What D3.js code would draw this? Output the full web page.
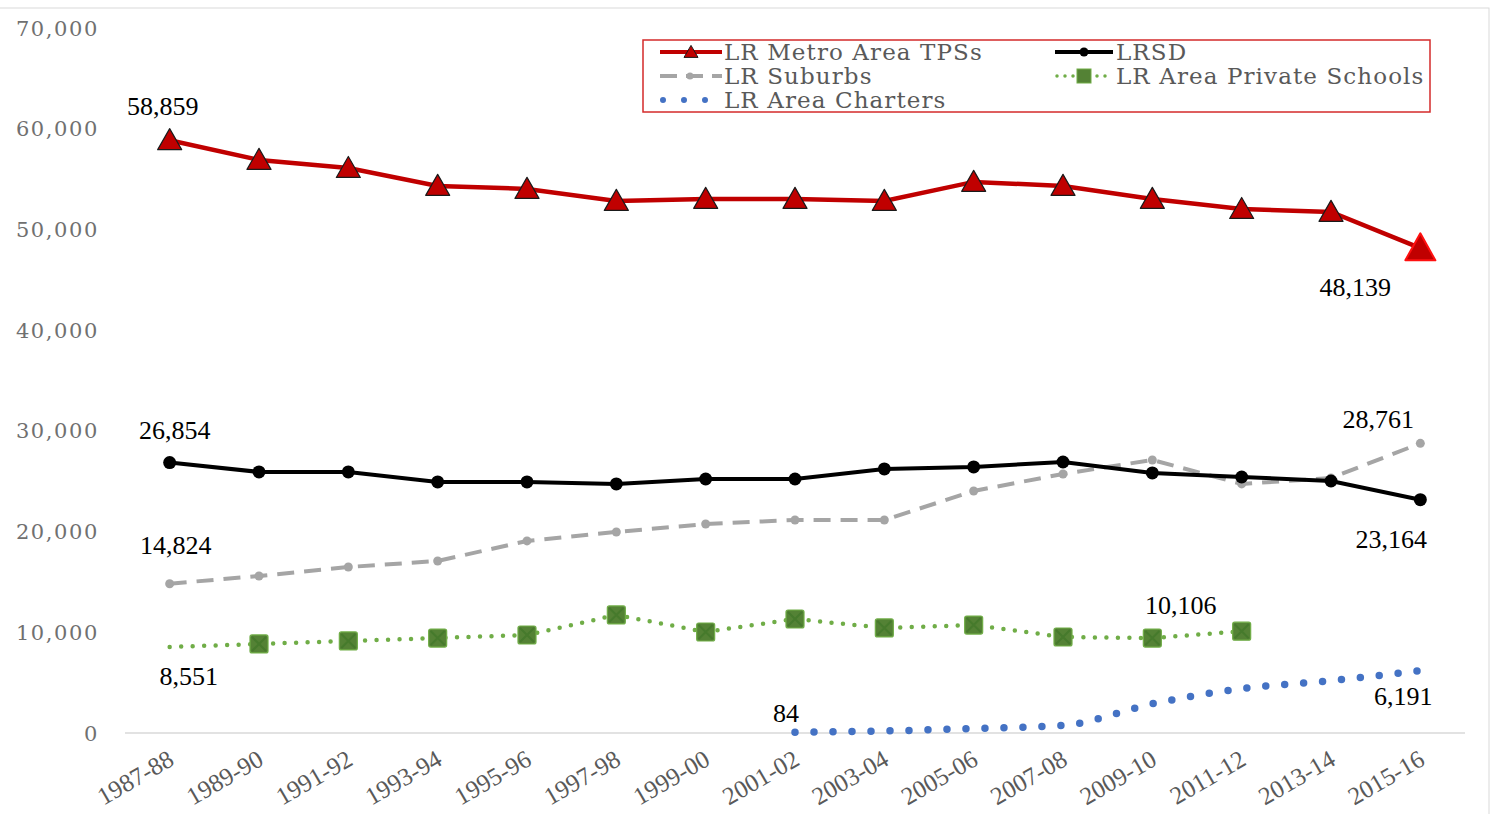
<!DOCTYPE html>
<html>
<head>
<meta charset="utf-8">
<script src="https://cdn.jsdelivr.net/npm/d3@7"></script>
<style>
  body { margin: 0; background: #fff; }
  svg { display: block; }
</style>
</head>
<body>
<svg width="1494" height="814"></svg>
<script>
const width = 1494;
const height = 814;

const years = ["1987-88", "1989-90", "1991-92", "1993-94", "1995-96", "1997-98", "1999-00",
  "2001-02", "2003-04", "2005-06", "2007-08", "2009-10", "2011-12", "2013-14", "2015-16"];

const metroTPS = [58859, 56900, 56100, 54320, 54020, 52830, 53030, 53030, 52830, 54720, 54320, 53030, 52030, 51740, 48139];
const lrsd = [26854, 25920, 25920, 24930, 24930, 24730, 25220, 25220, 26220, 26420, 26910, 25820, 25420, 25020, 23164];
const suburbs = [14824, 15590, 16480, 17080, 19070, 19960, 20750, 21150, 21150, 24030, 25720, 27110, 24730, 25320, 28761];
const privateSchools = [8551, 8840, 9140, 9430, 9730, 11720, 10030, 11320, 10430, 10720, 9530, 9430, 10106, null, null];
const charters = [null, null, null, null, null, null, null, 84, 200, 450, 750, 2900, 4400, 5200, 6191];

const yTicks = [0, 10000, 20000, 30000, 40000, 50000, 60000, 70000];

// which points get a value label, and where it sits relative to the point
const valueLabels = [
  { series: "metro", i: 0, dx: -7, dy: -25 },
  { series: "metro", i: 14, dx: -65, dy: 48 },
  { series: "lrsd", i: 0, dx: 5, dy: -24 },
  { series: "lrsd", i: 14, dx: -29, dy: 48 },
  { series: "suburbs", i: 0, dx: 6, dy: -30 },
  { series: "suburbs", i: 14, dx: -42, dy: -15 },
  { series: "private", i: 0, dx: 19, dy: 38 },
  { series: "private", i: 12, dx: -61, dy: -17 },
  { series: "charters", i: 7, dx: -9, dy: -10 },
  { series: "charters", i: 14, dx: -17, dy: 34 }
];

const seriesValues = { metro: metroTPS, lrsd: lrsd, suburbs: suburbs, private: privateSchools, charters: charters };

const svg = d3.select("svg");

const x = d3.scaleBand().domain(years).range([125, 1465]);
const cx = d => x(d) + x.bandwidth() / 2;
const y = d3.scaleLinear().domain([0, 70000]).range([733, 28]);

// outer chart border
svg.append("rect")
  .attr("x", -2).attr("y", 8)
  .attr("width", 1491).attr("height", 820)
  .attr("fill", "none")
  .attr("stroke", "#d9d9d9")
  .attr("stroke-width", 1);

// y axis labels
svg.append("g")
  .selectAll("text")
  .data(yTicks)
  .enter()
  .append("text")
  .attr("x", 99)
  .attr("y", d => y(d))
  .attr("dy", "0.36em")
  .attr("text-anchor", "end")
  .style("font-family", "'DejaVu Serif'")
  .style("font-size", "21px")
  .style("letter-spacing", "1.6px")
  .style("fill", "#707070")
  .text(d => d3.format(",")(d));

// baseline
svg.append("line")
  .attr("x1", 125).attr("x2", 1465)
  .attr("y1", y(0)).attr("y2", y(0))
  .attr("stroke", "#d9d9d9")
  .attr("stroke-width", 1.5);

// x axis labels
svg.append("g")
  .selectAll("text")
  .data(years)
  .enter()
  .append("text")
  .attr("transform", d => `translate(${cx(d) + 6}, ${y(0) + 31}) rotate(-30)`)
  .attr("text-anchor", "end")
  .style("font-family", "'Liberation Serif'")
  .style("font-size", "25px")
  .style("fill", "#595959")
  .text(d => d);

const pts = vals => vals.map((v, i) => ({ year: years[i], v })).filter(d => d.v !== null);

const line = d3.line().x(d => cx(d.year)).y(d => y(d.v));

// LR Area Charters (smoothed, round dots)
svg.append("path")
  .datum(pts(charters))
  .attr("d", line.curve(d3.curveMonotoneX))
  .attr("fill", "none")
  .attr("stroke", "#4472C4")
  .attr("stroke-width", 7.5)
  .attr("stroke-linecap", "round")
  .attr("stroke-dasharray", "0 19");
line.curve(d3.curveLinear);

// LR Area Private Schools
svg.append("path")
  .datum(pts(privateSchools))
  .attr("d", line)
  .attr("fill", "none")
  .attr("stroke", "#70AD47")
  .attr("stroke-width", 4.5)
  .attr("stroke-linecap", "round")
  .attr("stroke-dasharray", "0 11.5");

const sq = 18;
const privMarks = svg.append("g")
  .selectAll("g")
  .data(pts(privateSchools).slice(1))
  .enter()
  .append("g")
  .attr("transform", d => `translate(${cx(d.year)}, ${y(d.v)})`);
privMarks.append("rect")
  .attr("x", -sq / 2).attr("y", -sq / 2)
  .attr("width", sq).attr("height", sq)
  .attr("rx", 2)
  .attr("fill", "#548235")
  .attr("stroke", "#70AD47")
  .attr("stroke-width", 1.2);
privMarks.append("path")
  .attr("d", `M${-sq / 2 + 2},${-sq / 2 + 2}L${sq / 2 - 2},${sq / 2 - 2}M${sq / 2 - 2},${-sq / 2 + 2}L${-sq / 2 + 2},${sq / 2 - 2}`)
  .attr("stroke", "#467a2c")
  .attr("stroke-width", 2);

// LR Suburbs
svg.append("path")
  .datum(pts(suburbs))
  .attr("d", line)
  .attr("fill", "none")
  .attr("stroke", "#A5A5A5")
  .attr("stroke-width", 4)
  .attr("stroke-dasharray", "17 10");

svg.append("g")
  .selectAll("circle")
  .data(pts(suburbs))
  .enter()
  .append("circle")
  .attr("cx", d => cx(d.year))
  .attr("cy", d => y(d.v))
  .attr("r", 4.5)
  .attr("fill", "#A5A5A5");

// LRSD
svg.append("path")
  .datum(pts(lrsd))
  .attr("d", line)
  .attr("fill", "none")
  .attr("stroke", "#000")
  .attr("stroke-width", 4);

svg.append("g")
  .selectAll("circle")
  .data(pts(lrsd))
  .enter()
  .append("circle")
  .attr("cx", d => cx(d.year))
  .attr("cy", d => y(d.v))
  .attr("r", 6.5)
  .attr("fill", "#000");

// LR Metro Area TPSs
svg.append("path")
  .datum(pts(metroTPS))
  .attr("d", line)
  .attr("fill", "none")
  .attr("stroke", "#C00000")
  .attr("stroke-width", 4.5);

const tri = (w, h) => `M0,${-h * 0.55}L${w / 2},${h * 0.45}L${-w / 2},${h * 0.45}Z`;
const metroPts = pts(metroTPS);
svg.append("g")
  .selectAll("path")
  .data(metroPts)
  .enter()
  .append("path")
  .attr("transform", d => `translate(${cx(d.year)}, ${y(d.v)})`)
  .attr("d", (d, i) => i === metroPts.length - 1 ? tri(30, 27) : tri(24, 21))
  .attr("fill", "#C00000")
  .attr("stroke", (d, i) => i === metroPts.length - 1 ? "#FF1010" : "#1a1a1a")
  .attr("stroke-width", (d, i) => i === metroPts.length - 1 ? 2 : 1.2)
  .attr("stroke-linejoin", "round");

// value labels
svg.append("g")
  .selectAll("text")
  .data(valueLabels)
  .enter()
  .append("text")
  .attr("x", d => cx(years[d.i]) + d.dx)
  .attr("y", d => y(seriesValues[d.series][d.i]) + d.dy)
  .attr("text-anchor", "middle")
  .style("font-family", "'Liberation Serif'")
  .style("font-size", "26px")
  .style("fill", "#000")
  .text(d => d3.format(",")(seriesValues[d.series][d.i]));

// legend
const legend = svg.append("g");
legend.append("rect")
  .attr("x", 643).attr("y", 40)
  .attr("width", 787).attr("height", 72)
  .attr("fill", "#fff")
  .attr("stroke", "#D42A2A")
  .attr("stroke-width", 1.5);

const legendItems = [
  { name: "LR Metro Area TPSs", col: 0, row: 0, key: "metro" },
  { name: "LRSD", col: 1, row: 0, key: "lrsd" },
  { name: "LR Suburbs", col: 0, row: 1, key: "suburbs" },
  { name: "LR Area Private Schools", col: 1, row: 1, key: "private" },
  { name: "LR Area Charters", col: 0, row: 2, key: "charters" }
];

const lg = legend.selectAll("g.item")
  .data(legendItems)
  .enter()
  .append("g")
  .attr("class", "item")
  .attr("transform", d => `translate(${d.col ? 1055 : 660}, ${52 + d.row * 24})`);

lg.each(function(d) {
  const g = d3.select(this);
  if (d.key === "metro") {
    g.append("line").attr("x1", 0).attr("x2", 62).attr("stroke", "#C00000").attr("stroke-width", 4);
    g.append("path").attr("transform", "translate(31,0)").attr("d", tri(14, 12))
      .attr("fill", "#C00000").attr("stroke", "#1a1a1a").attr("stroke-width", 1);
  } else if (d.key === "lrsd") {
    g.append("line").attr("x1", 0).attr("x2", 58).attr("stroke", "#000").attr("stroke-width", 4);
    g.append("circle").attr("cx", 29).attr("r", 4.5).attr("fill", "#000");
  } else if (d.key === "suburbs") {
    g.append("line").attr("x1", 0).attr("x2", 62).attr("stroke", "#A5A5A5").attr("stroke-width", 4)
      .attr("stroke-dasharray", "17 9");
    g.append("circle").attr("cx", 30).attr("r", 3.5).attr("fill", "#A5A5A5");
  } else if (d.key === "private") {
    g.append("line").attr("x1", 2).attr("x2", 58).attr("stroke", "#70AD47").attr("stroke-width", 3.5)
      .attr("stroke-linecap", "round").attr("stroke-dasharray", "0 8");
    g.append("rect").attr("x", 22).attr("y", -7).attr("width", 14).attr("height", 14)
      .attr("fill", "#548235").attr("stroke", "#70AD47");
  } else {
    g.append("line").attr("x1", 3).attr("x2", 48).attr("stroke", "#4472C4").attr("stroke-width", 6)
      .attr("stroke-linecap", "round").attr("stroke-dasharray", "0 21");
  }
  g.append("text")
    .attr("x", d.col ? 61 : 64)
    .attr("dy", "0.36em")
    .style("font-family", "'DejaVu Serif'")
    .style("font-size", "23px")
    .style("letter-spacing", "1.1px")
    .style("fill", "#595959")
    .text(d.name);
});
</script>
</body>
</html>
